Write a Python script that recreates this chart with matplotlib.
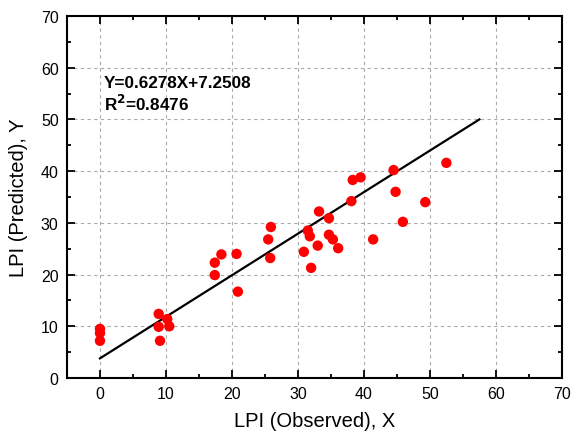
import matplotlib.pyplot as plt
from matplotlib.ticker import MultipleLocator

plt.rcParams['font.family'] = ['Liberation Sans', 'DejaVu Sans']

# observed vs predicted LPI
observed = [0, 0, 0, 8.9, 8.9, 9.1, 10.2, 10.5,
            17.4, 17.4, 18.4, 20.7, 20.9, 25.5, 25.9, 25.8,
            30.9, 31.5, 31.8, 32.0, 33.0, 33.2, 34.7, 34.7, 35.3, 36.1,
            38.1, 38.3, 39.5, 41.4, 44.5, 44.8, 45.9, 49.3, 52.5]
predicted = [9.5, 8.7, 7.2, 12.4, 9.9, 7.2, 11.4, 10.0,
             22.3, 19.9, 23.9, 24.0, 16.7, 26.8, 29.2, 23.2,
             24.4, 28.5, 27.4, 21.3, 25.6, 32.2, 30.9, 27.7, 26.8, 25.1,
             34.2, 38.3, 38.8, 26.8, 40.2, 36.0, 30.2, 34.0, 41.6]

# fitted line as drawn in the figure
fit_x = [0, 57.5]
fit_y = [3.8, 50.0]

fig = plt.figure(figsize=(5.71, 4.35), dpi=100)
ax = fig.add_axes([0.1173, 0.1287, 0.8667, 0.8323])

ax.grid(True, color='#aaaaaa', linestyle=(0, (3, 3)), linewidth=0.8)
ax.set_axisbelow(True)

ax.plot(fit_x, fit_y, color='black', linewidth=1.6, zorder=2)
ax.scatter(observed, predicted, s=56, color='red', edgecolors='none', zorder=3)

ax.set_xlim(-5, 70)
ax.set_ylim(0, 70)
ax.xaxis.set_major_locator(MultipleLocator(10))
ax.xaxis.set_minor_locator(MultipleLocator(5))
ax.yaxis.set_major_locator(MultipleLocator(10))
ax.yaxis.set_minor_locator(MultipleLocator(5))
ax.tick_params(which='both', direction='in', top=True, right=True, labelsize=11.5)
ax.tick_params(which='major', length=6, width=1.3, pad=6)
ax.tick_params(which='minor', length=3, width=1.3)
for sp in ax.spines.values():
    sp.set_linewidth(1.5)

ax.set_xlabel('LPI (Observed), X', fontsize=14.5, labelpad=7)
ax.set_ylabel('LPI (Predicted), Y', fontsize=14.5, labelpad=9)

ax.text(0.5, 56.3, 'Y=0.6278X+7.2508', fontsize=12.3, fontweight='bold')
ax.text(0.6, 51.9, 'R$^\\mathbf{2}$=0.8476', fontsize=12.3, fontweight='bold')

fig.savefig('out.png', dpi=100)
